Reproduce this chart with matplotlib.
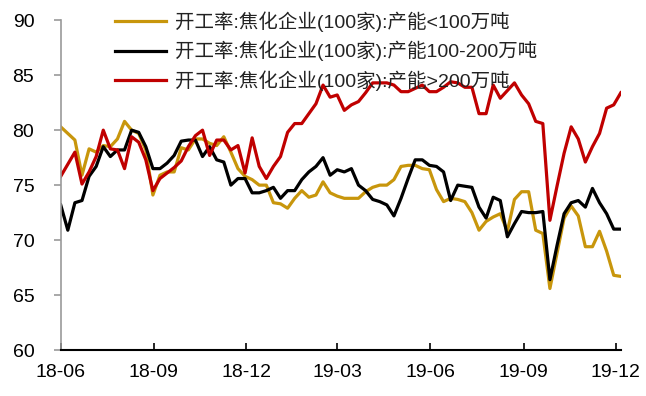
import matplotlib
matplotlib.use("Agg")
import matplotlib.pyplot as plt
import matplotlib.dates as mdates
import pandas as pd

plt.rcParams['font.family'] = ['Liberation Sans', 'Noto Sans CJK SC']

# weekly data, Fridays from 2018-06-01
dates = pd.date_range('2018-06-01', periods=80, freq='7D')

small = [80.3, 79.7, 79.1, 75.9, 78.3, 78.0, 78.6, 78.5, 79.2, 80.8,
         80.0, 79.7, 78.2, 74.1, 75.9, 76.2, 76.2, 78.4, 78.2, 79.2,
         79.2, 78.8, 78.6, 79.4, 78.0, 76.5, 75.8, 75.5, 75.0, 75.0,
         73.4, 73.3, 72.9, 73.8, 74.5, 73.9, 74.1, 75.3, 74.3, 74.0,
         73.8, 73.8, 73.8, 74.4, 74.8, 75.0, 75.0, 75.5, 76.7, 76.8,
         76.8, 76.5, 76.4, 74.6, 73.5, 73.8, 73.7, 73.5, 72.5, 70.9,
         71.7, 72.1, 72.4, 70.8, 73.7, 74.4, 74.4, 70.9, 70.6, 65.6,
         68.8, 72.0, 73.1, 72.2, 69.4, 69.4, 70.8, 69.0, 66.8, 66.7]

mid = [73.2, 70.9, 73.4, 73.6, 75.8, 76.7, 78.5, 77.6, 78.2, 78.2,
       80.0, 79.8, 78.5, 76.5, 76.5, 77.0, 77.7, 79.0, 79.1, 79.1,
       77.6, 78.5, 77.3, 77.1, 75.0, 75.6, 75.6, 74.3, 74.3, 74.5,
       74.8, 73.8, 74.5, 74.5, 75.5, 76.2, 76.7, 77.5, 75.9, 76.4,
       76.2, 76.5, 75.0, 74.5, 73.7, 73.5, 73.2, 72.2, 73.8, 75.6,
       77.3, 77.3, 76.8, 76.7, 76.2, 73.6, 75.0, 74.9, 74.8, 73.0,
       72.0, 73.9, 73.6, 70.3, 71.5, 72.6, 72.5, 72.5, 72.6, 66.4,
       69.5, 72.4, 73.4, 73.6, 73.0, 74.7, 73.4, 72.4, 71.0, 71.0]

large = [75.8, 76.9, 78.0, 75.1, 76.2, 77.6, 80.0, 78.3, 78.2, 76.5,
         79.4, 78.9, 77.3, 74.5, 75.6, 76.1, 76.6, 77.2, 78.5, 79.5,
         80.0, 77.7, 79.1, 79.1, 78.2, 78.6, 76.1, 79.3, 76.7, 75.6,
         76.7, 77.6, 79.8, 80.6, 80.6, 81.5, 82.4, 84.1, 83.0, 83.2,
         81.8, 82.3, 82.6, 83.4, 84.3, 84.3, 84.3, 84.1, 83.5, 83.5,
         83.8, 84.1, 83.5, 83.5, 83.9, 84.4, 84.3, 83.9, 83.9, 81.5,
         81.5, 84.1, 82.9, 83.6, 84.3, 83.2, 82.4, 80.8, 80.6, 71.8,
         74.9, 77.9, 80.3, 79.2, 77.1, 78.5, 79.7, 82.0, 82.3, 83.4]

labels = ['开工率:焦化企业(100家):产能<100万吨',
          '开工率:焦化企业(100家):产能100-200万吨',
          '开工率:焦化企业(100家):产能>200万吨']
colors = ['#C8960C', '#000000', '#C00000']

fig = plt.figure(figsize=(6.46, 3.96), dpi=100)
ax = fig.add_axes([0.094, 0.116, 0.867, 0.833])

for vals, lab, c in zip([small, mid, large], labels, colors):
    ax.plot(dates, vals, color=c, lw=2.3, label=lab)

ax.set_ylim(60, 90)
ax.set_yticks(range(60, 91, 5))
ax.set_xlim(pd.Timestamp('2018-06-01'), pd.Timestamp('2019-12-06'))
ax.xaxis.set_major_locator(mdates.MonthLocator(bymonth=[3, 6, 9, 12]))
ax.xaxis.set_major_formatter(mdates.DateFormatter('%y-%m'))

for s in ['top', 'right']:
    ax.spines[s].set_visible(False)
ax.spines['left'].set_color('#999999')
ax.spines['left'].set_linewidth(1.2)
ax.spines['bottom'].set_color('black')
ax.spines['bottom'].set_linewidth(1.5)

ax.tick_params(axis='y', direction='out', length=5, width=1.2, color='#999999',
               labelsize=14, pad=14)
ax.tick_params(axis='x', direction='in', length=5, width=1.2, color='black',
               labelsize=14, pad=10)

leg = ax.legend(loc='upper left', bbox_to_anchor=(0.097, 1.027), frameon=False,
                fontsize=14, handlelength=2.6, handletextpad=0.5,
                labelspacing=0.46, borderaxespad=0, borderpad=0)
for t in leg.get_texts():
    t.set_color('#222222')

fig.savefig('out.png', dpi=100)
